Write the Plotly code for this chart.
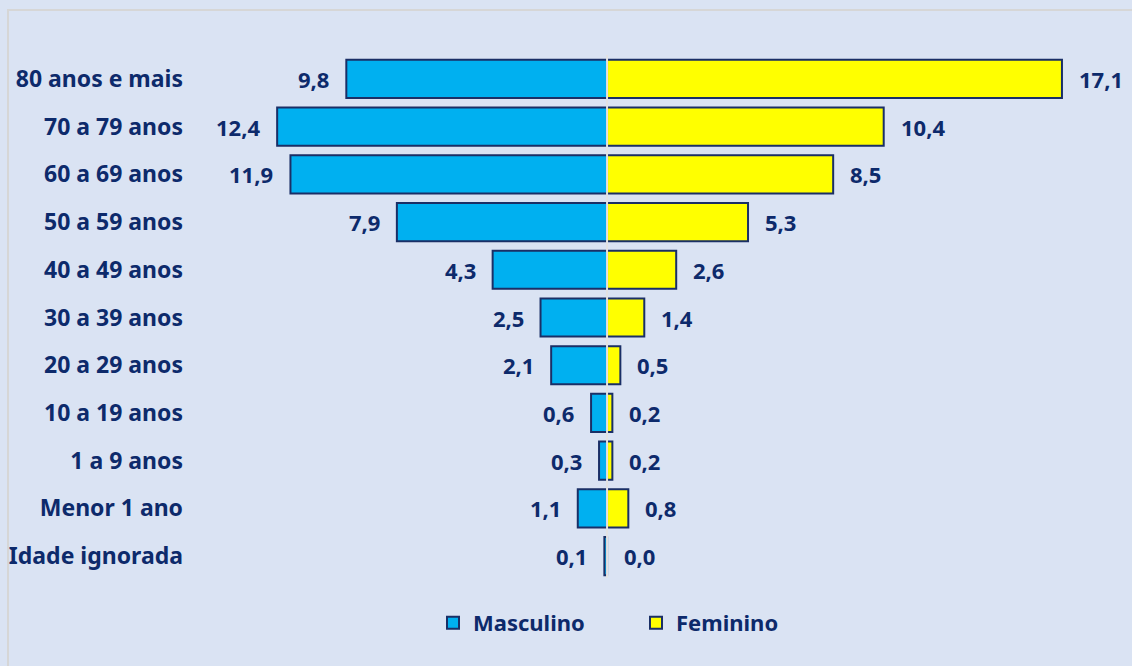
import plotly.graph_objects as go

categories = ["80 anos e mais", "70 a 79 anos", "60 a 69 anos", "50 a 59 anos", "40 a 49 anos",
              "30 a 39 anos", "20 a 29 anos", "10 a 19 anos", "1 a 9 anos", "Menor 1 ano", "Idade ignorada"]
masculino = [9.8, 12.4, 11.9, 7.9, 4.3, 2.5, 2.1, 0.6, 0.3, 1.1, 0.1]
feminino = [17.1, 10.4, 8.5, 5.3, 2.6, 1.4, 0.5, 0.2, 0.2, 0.8, 0.0]

W, H = 1132, 666
L, R, T, B = 200, 32, 55, 86
x0, x1 = -15.30, 18.53
navy = "#0D2A6B"
outline = "#1A2F66"
bg = "#DAE3F3"
font_family = "Noto Sans, Open Sans, sans-serif"

def fmt(v):
    return f"{v:.1f}".replace(".", ",")

fig = go.Figure()
fig.add_trace(go.Bar(y=categories, x=[-v for v in masculino], orientation="h", name="Masculino",
                     marker=dict(color="#00B0F0", line=dict(color=outline, width=2)),
                     hoverinfo="skip"))
fig.add_trace(go.Bar(y=categories, x=feminino, orientation="h", name="Feminino",
                     marker=dict(color="#FFFF00", line=dict(color=outline, width=2)),
                     hoverinfo="skip"))

for c, v in zip(categories, masculino):
    fig.add_annotation(x=-v, y=c, text=fmt(v), xanchor="right", xshift=-15, showarrow=False,
                       font=dict(family=font_family, size=22, color=navy, weight="bold"))
for c, v in zip(categories, feminino):
    fig.add_annotation(x=v, y=c, text=fmt(v), xanchor="left", xshift=15, showarrow=False,
                       font=dict(family=font_family, size=22, color=navy, weight="bold"))

pw = W - L - R
ph = H - T - B

# center line
fig.add_shape(type="line", x0=0, x1=0, xref="x", yref="paper", y0=(H - 578 - B) / ph, y1=1.0,
              line=dict(color="#E2E2E2", width=2), layer="above")

# outer frame
fig.add_shape(type="rect", xref="paper", yref="paper",
              x0=(8 - L) / pw, x1=(W + 5 - L) / pw,
              y0=(H - (H + 5) - B) / ph, y1=(H - 10 - B) / ph,
              line=dict(color="#D6D6D6", width=2), fillcolor="rgba(0,0,0,0)", layer="below")

fig.update_layout(
    width=W, height=H,
    barmode="relative", bargap=0.2,
    paper_bgcolor=bg, plot_bgcolor=bg,
    margin=dict(l=L, r=R, t=T, b=B, autoexpand=False),
    font=dict(family=font_family, color=navy),
    xaxis=dict(range=[x0, x1], showgrid=False, zeroline=False, showticklabels=False, fixedrange=True),
    yaxis=dict(autorange="reversed", showgrid=False, zeroline=False, ticklabelstandoff=16,
               tickfont=dict(family=font_family, size=23, color=navy, weight="bold"), fixedrange=True),
    legend=dict(orientation="h", x=(433 - L) / pw, xanchor="left", y=(H - 623 - B) / ph, yanchor="middle",
                font=dict(family=font_family, size=22, color=navy, weight="bold"),
                bgcolor="rgba(0,0,0,0)", itemwidth=30, traceorder="normal",
                entrywidth=158, entrywidthmode="pixels"),
    showlegend=True,
)

fig.write_html("out.html", config={"displayModeBar": False},
               post_script=f"document.body.style.margin='0';document.body.style.background='{bg}';")
